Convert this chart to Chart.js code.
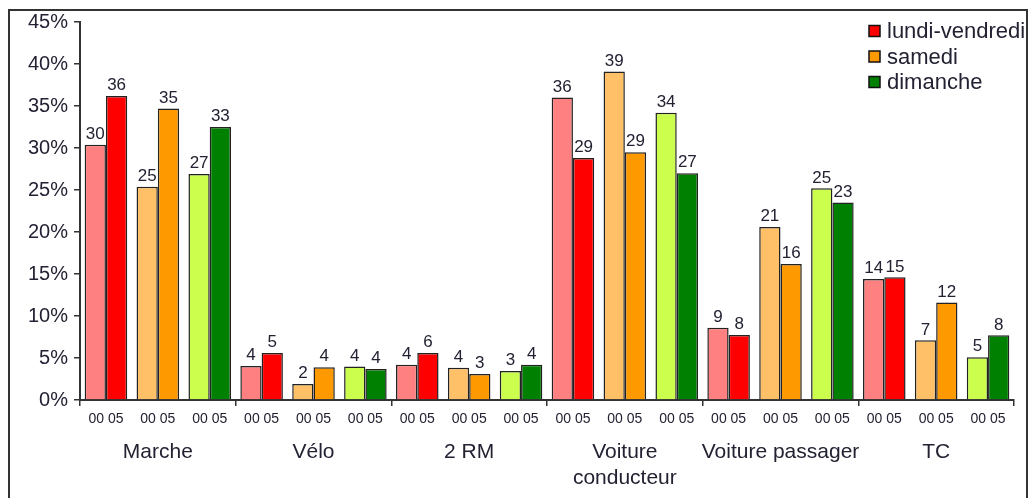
<!DOCTYPE html>
<html>
<head>
<meta charset="utf-8">
<script src="https://cdn.jsdelivr.net/npm/chart.js@4"></script>
<style>
  html, body { margin: 0; padding: 0; background: #ffffff; }
  #wrap { position: relative; width: 1029px; height: 498px; }
  canvas { display: block; }
</style>
</head>
<body>
<div id="wrap"><canvas id="c" width="1029" height="498"></canvas></div>
<script>
// ---- Data ----
const modes = ['Marche', 'Vélo', '2 RM', ['Voiture', 'conducteur'], 'Voiture passager', 'TC'];
const dayTypes = ['lundi-vendredi', 'samedi', 'dimanche'];
const yearLabel = '00 05';
// order: for each mode, lundi-vendredi, samedi, dimanche
const values2000 = [30.4, 25.4, 26.9,  4.05, 1.9, 4.0,  4.2, 3.85, 3.45,  36.0, 39.1, 34.2,  8.6, 20.6, 25.2,  14.4, 7.1, 5.1];
const values2005 = [36.2, 34.7, 32.5,  5.6, 3.9, 3.7,  5.6, 3.1, 4.2,  28.8, 29.5, 27.0,  7.75, 16.2, 23.5,  14.6, 11.6, 7.7];
const labels2000 = [30, 25, 27,  4, 2, 4,  4, 4, 3,  36, 39, 34,  9, 21, 25,  14, 7, 5];
const labels2005 = [36, 35, 33,  5, 4, 4,  6, 3, 4,  29, 29, 27,  8, 16, 23,  15, 12, 8];
const yTicks = [0, 5, 10, 15, 20, 25, 30, 35, 40, 45];

// ---- Styles ----
const lightColors = ['#ff8080', '#ffc068', '#ccff4d'];
const darkColors  = ['#ff0000', '#ff9900', '#008000'];
const textColor = '#222233';
const fontFamily = 'Arial, "Liberation Sans", Helvetica, sans-serif';

// derived category labels
const catLabels = [];
const groupLabels = [];
const catDay = [];
modes.forEach(m => {
  dayTypes.forEach((d, j) => {
    catLabels.push(yearLabel);
    groupLabels.push(j === 1 ? m : '');
    catDay.push(j);
  });
});

const frameAndLabels = {
  id: 'frameAndLabels',
  beforeDraw(chart) {
    const ctx = chart.ctx;
    ctx.save();
    ctx.fillStyle = '#fff';
    ctx.fillRect(0, 0, chart.width, chart.height);
    ctx.restore();
  },
  afterDatasetsDraw(chart) {
    const ctx = chart.ctx;
    ctx.save();
    ctx.font = '17px ' + fontFamily;
    ctx.fillStyle = textColor;
    ctx.textAlign = 'center';
    ctx.textBaseline = 'bottom';
    const lbls = [labels2000, labels2005];
    chart.data.datasets.forEach((ds, di) => {
      const meta = chart.getDatasetMeta(di);
      meta.data.forEach((bar, i) => {
        ctx.fillText(String(lbls[di][i]), bar.x, bar.y - 2);
      });
    });
    ctx.restore();
  },
  afterDraw(chart) {
    const ctx = chart.ctx;
    ctx.save();
    // legend
    const lx = 869, ly0 = 31, dy = 25.5;
    ctx.font = '22px ' + fontFamily;
    ctx.textBaseline = 'middle';
    ctx.textAlign = 'left';
    dayTypes.forEach((d, i) => {
      const y = ly0 + i * dy;
      ctx.fillStyle = darkColors[i];
      ctx.fillRect(lx, y - 5.5, 11, 11);
      ctx.strokeStyle = '#111';
      ctx.lineWidth = 1.5;
      ctx.strokeRect(lx, y - 5.5, 11, 11);
      ctx.fillStyle = textColor;
      ctx.fillText(d, lx + 18, y + 1);
    });
    // frame
    ctx.strokeStyle = '#333';
    ctx.lineWidth = 2;
    ctx.beginPath();
    ctx.moveTo(9, chart.height + 2);
    ctx.lineTo(9, 10);
    ctx.lineTo(1027, 10);
    ctx.lineTo(1027, chart.height + 2);
    ctx.stroke();
    ctx.restore();
  }
};

const groupTickColor = ctx => (ctx.index === undefined || ctx.index % 3 === 0) ? '#333' : 'rgba(0,0,0,0)';

new Chart(document.getElementById('c'), {
  type: 'bar',
  data: {
    labels: catLabels,
    datasets: [
      {
        label: '2000',
        data: values2000,
        backgroundColor: catDay.map(j => lightColors[j]),
        borderColor: '#222',
        borderWidth: 1.5,
        barPercentage: 1.0,
        categoryPercentage: 0.82
      },
      {
        label: '2005',
        data: values2005,
        backgroundColor: catDay.map(j => darkColors[j]),
        borderColor: '#222',
        borderWidth: 1.5,
        barPercentage: 1.0,
        categoryPercentage: 0.82
      }
    ]
  },
  options: {
    responsive: false,
    animation: false,
    devicePixelRatio: 1,
    layout: { padding: { top: 22, right: 15, bottom: 0, left: 0 } },
    plugins: {
      legend: { display: false },
      tooltip: { enabled: false }
    },
    scales: {
      y: {
        min: 0,
        max: 45,
        afterBuildTicks: s => { s.ticks = yTicks.map(v => ({ value: v })); },
        afterFit: s => { s.width = 80; },
        ticks: {
          callback: v => v + '%',
          font: { size: 20, family: fontFamily },
          color: textColor,
          padding: 6
        },
        grid: { display: true, drawOnChartArea: false, drawTicks: true, tickLength: 6, color: '#333', lineWidth: 1.5 },
        border: { display: true, color: '#333', width: 2 }
      },
      x: {
        position: 'bottom',
        afterFit: s => { s.height = 26; },
        ticks: {
          font: { size: 14, family: fontFamily },
          color: textColor,
          padding: 5,
          autoSkip: false,
          maxRotation: 0
        },
        grid: { display: true, drawOnChartArea: false, drawTicks: true, tickLength: 6, color: groupTickColor, lineWidth: 1.5 },
        border: { display: true, color: '#333', width: 2 }
      },
      x2: {
        type: 'category',
        position: 'bottom',
        labels: groupLabels,
        offset: true,
        afterFit: s => { s.height = 72; },
        ticks: {
          font: { size: 21, family: fontFamily },
          color: textColor,
          padding: 14,
          autoSkip: false,
          maxRotation: 0
        },
        grid: { display: false, drawTicks: false },
        border: { display: false }
      }
    }
  },
  plugins: [frameAndLabels]
});
</script>
</body>
</html>
